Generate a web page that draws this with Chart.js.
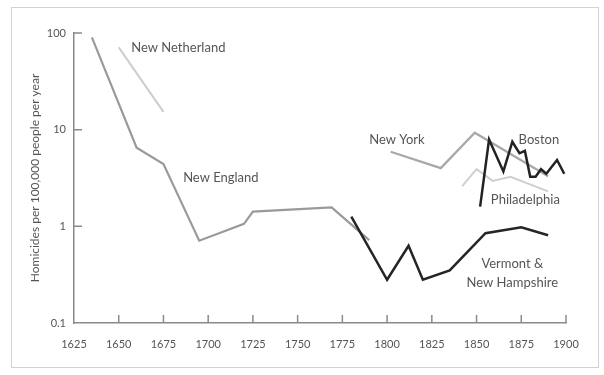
<!DOCTYPE html>
<html>
<head>
<meta charset="utf-8">
<title>Homicide rates</title>
<style>html,body{margin:0;padding:0;background:#fff;} canvas{display:block;}</style>
</head>
<body>
<canvas id="chart" width="604" height="375"></canvas>
<script src="https://cdn.jsdelivr.net/npm/chart.js"></script>
<script>
  // ticks
  const xTicks = [1625, 1650, 1675, 1700, 1725, 1750, 1775, 1800, 1825, 1850, 1875, 1900];
  const yTicks = [0.1, 1, 10, 100];

  // series (homicides per 100,000 per year)
  const newEnglandYears = [1635, 1660, 1675, 1695, 1720, 1725, 1769, 1790];
  const newEnglandRates = [90, 6.5, 4.4, 0.71, 1.06, 1.42, 1.57, 0.72];
  const newNetherlandYears = [1650, 1675];
  const newNetherlandRates = [71, 15.3];
  const newYorkYears = [1802, 1830, 1849, 1890];
  const newYorkRates = [5.9, 4.0, 9.3, 3.3];
  const philadelphiaYears = [1842, 1850, 1859, 1869, 1890];
  const philadelphiaRates = [2.6, 3.9, 2.95, 3.26, 2.3];
  const bostonYears = [1852, 1857, 1865, 1870, 1874, 1877, 1880, 1883, 1886, 1889, 1895, 1899];
  const bostonRates = [1.6, 7.9, 3.7, 7.5, 5.7, 6.05, 3.26, 3.26, 3.9, 3.5, 4.85, 3.5];
  const vermontYears = [1780, 1800, 1812, 1820, 1835, 1855, 1875, 1890];
  const vermontRates = [1.26, 0.28, 0.63, 0.28, 0.35, 0.85, 0.98, 0.81];

  // text labels next to the lines
  const labelTexts = ['New Netherland', 'New England', 'New York', 'Boston', 'Philadelphia', 'Vermont &', 'New Hampshire'];
  const labelYears = [1657, 1686, 1790, 1873.5, 1858, 1870, 1870];
  const labelRates = [71, 3.2, 7.9, 7.9, 1.87, 0.405, 0.26];
  const labelAlign = ['left', 'left', 'left', 'left', 'left', 'center', 'center'];

  const FONT = 'Lato, "Open Sans", sans-serif';
  const TEXT = '#555';
  const AXIS = '#8a8a8a';

  function pts(xs, ys) {
    return xs.map((x, i) => ({x: x, y: ys[i]}));
  }

  function line(name, xs, ys, color, width) {
    return {
      label: name,
      data: pts(xs, ys),
      borderColor: color,
      borderWidth: width,
      pointRadius: 0,
      tension: 0,
      fill: false
    };
  }

  const decorPlugin = {
    id: 'decor',
    beforeDraw(chart) {
      const c = chart.ctx;
      c.save();
      c.strokeStyle = '#d2d2d2';
      c.lineWidth = 1;
      c.strokeRect(11.5, 7.5, 587, 360);
      c.restore();
    },
    afterDatasetsDraw(chart) {
      const c = chart.ctx;
      const xs = chart.scales.x, ys = chart.scales.y;
      const a = chart.chartArea;
      c.save();
      c.strokeStyle = AXIS;
      c.lineWidth = 1.5;
      c.beginPath();
      xTicks.slice(1).forEach(v => {
        const px = xs.getPixelForValue(v);
        c.moveTo(px, a.bottom);
        c.lineTo(px, a.bottom - 8);
      });
      yTicks.slice(1).forEach(v => {
        const py = ys.getPixelForValue(v);
        c.moveTo(a.left, py);
        c.lineTo(a.left + 8, py);
      });
      c.stroke();

      c.fillStyle = TEXT;
      c.font = '13px ' + FONT;
      c.textBaseline = 'middle';
      labelTexts.forEach((t, i) => {
        c.textAlign = labelAlign[i];
        c.fillText(t, xs.getPixelForValue(labelYears[i]), ys.getPixelForValue(labelRates[i]));
      });
      c.restore();
    }
  };

  new Chart(document.getElementById('chart'), {
    type: 'line',
    data: {
      datasets: [
        line('Boston', bostonYears, bostonRates, '#222', 2.5),
        line('Vermont & New Hampshire', vermontYears, vermontRates, '#252525', 2.5),
        line('New England', newEnglandYears, newEnglandRates, '#9a9a9a', 2.2),
        line('New York', newYorkYears, newYorkRates, '#a8a8a8', 2.2),
        line('New Netherland', newNetherlandYears, newNetherlandRates, '#cdcdcd', 2),
        line('Philadelphia', philadelphiaYears, philadelphiaRates, '#cfcfcf', 2)
      ]
    },
    options: {
      responsive: false,
      animation: false,
      layout: {padding: {top: 33, right: 38, left: 0, bottom: 0}},
      plugins: {legend: {display: false}, tooltip: {enabled: false}},
      scales: {
        x: {
          type: 'linear',
          min: 1625,
          max: 1900,
          afterBuildTicks: s => { s.ticks = xTicks.map(v => ({value: v})); },
          afterFit: s => { s.height = 52; },
          grid: {display: false, drawTicks: false},
          border: {display: true, color: AXIS, width: 1.5},
          ticks: {
            callback: v => String(v),
            font: {family: FONT, size: 11},
            color: TEXT,
            padding: 15,
            maxRotation: 0,
            autoSkip: false
          }
        },
        y: {
          type: 'logarithmic',
          min: 0.1,
          max: 100,
          afterBuildTicks: s => { s.ticks = yTicks.map(v => ({value: v})); },
          afterFit: s => { s.width = 74; },
          grid: {display: false, drawTicks: false},
          border: {display: true, color: AXIS, width: 1.5},
          ticks: {
            callback: v => String(v),
            font: {family: FONT, size: 11},
            color: TEXT,
            padding: 8,
            autoSkip: false
          },
          title: {
            display: true,
            text: 'Homicides per 100,000 people per year',
            font: {family: FONT, size: 12},
            color: TEXT,
            padding: {top: 28, bottom: 0}
          }
        }
      }
    },
    plugins: [decorPlugin]
  });
</script>
</body>
</html>
